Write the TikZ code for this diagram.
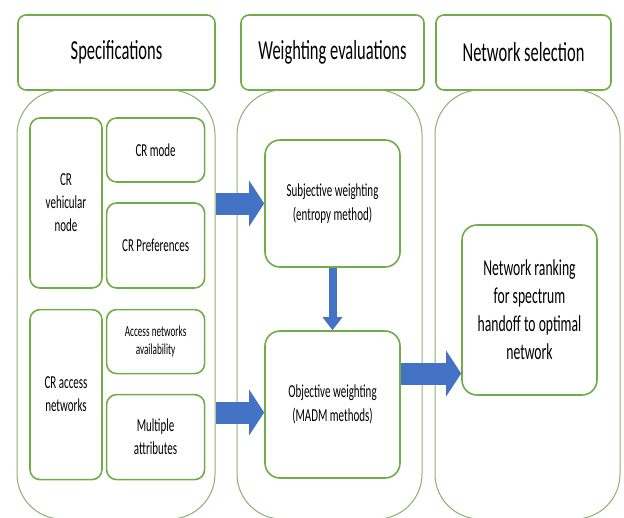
\documentclass[tikz,border=0pt]{standalone}
\usepackage{fontspec}
\setmainfont{Carlito}[FakeStretch=0.6]
\usetikzlibrary{positioning,calc,arrows.meta}
\definecolor{boxgreen}{HTML}{70AD47}
\definecolor{panelgreen}{HTML}{8DAF6E}
\definecolor{flowblue}{HTML}{4472C4}

\begin{document}
\begin{tikzpicture}[x=1pt, y=-1pt, node distance={3pt},
  head/.style = {draw=boxgreen, line width=1.6pt, rounded corners=8pt, inner sep=0pt, minimum height=75pt, font=\fontsize{27.5}{30}\selectfont},
  panel/.style = {draw=panelgreen, line width=1pt, rounded corners=45pt, minimum width=185pt, minimum height=429pt, inner sep=0pt},
  box/.style = {draw=boxgreen, line width=1.6pt, rounded corners=10pt, inner sep=0pt, align=center, font=\fontsize{18.3}{23}\selectfont},
  big/.style = {draw=boxgreen, line width=1.6pt, rounded corners=15pt, inner sep=0pt, minimum width=135pt, align=center, font=\fontsize{18.3}{23.5}\selectfont},
  flow/.style = {flowblue, line width=22pt, -{Triangle[length=15pt, width=45pt]}}]
\useasboundingbox (0,0) rectangle (624,517);
% headers
\node[head, minimum width=197pt] (spec) at (116.5,52.5) {Specifications};
\node[head, minimum width=183pt] (weigh) at (332.5,52.5) {Weighting evaluations};
\node[head, minimum width=175pt] (sel) at (523.5,52.5) {Network selection};
% panels
\node[panel, minimum width=198pt] (specP) at (116,304.5) {};
\node[panel] (weighP) at (329.5,304.5) {};
\node[panel] (selP) at (527.5,304.5) {};
% specifications
\node[box, minimum width=72pt, minimum height=170pt] (veh) at (66,203) {CR\\vehicular\\node};
\node[box, minimum width=98pt, minimum height=64pt, right=of veh.north east, anchor=north west] (mode) {CR mode};
\node[box, minimum width=98pt, minimum height=85pt, right=of veh.south east, anchor=south west] (pref) {CR Preferences};
\node[box, minimum width=72pt, minimum height=170pt, below=20pt of veh] (acc) {CR access\\networks};
\node[box, minimum width=98pt, minimum height=64pt, right=of acc.north east, anchor=north west, font=\fontsize{15.3}{18}\selectfont] (avail) {Access networks\\availability};
\node[box, minimum width=98pt, minimum height=85pt, right=of acc.south east, anchor=south west] (multi) {Multiple\\attributes};
% weighting
\node[big, minimum height=127pt] (subj) at (332.5,203.5) {Subjective weighting\\(entropy method)};
\node[big, minimum height=147pt] (obj) at (332.5,404.5) {Objective weighting\\(MADM methods)};
% selection
\node[big, minimum height=170pt, font=\fontsize{22.8}{28}\selectfont] (rank) at (529.5,310) {Network ranking\\for spectrum\\handoff to optimal\\network};
% arrows
\coordinate (a2) at ($(obj.west)+(0,8)$);
\coordinate (a3) at ($(obj.east)+(0,-31)$);
\draw[flow] (specP.east |- subj.west) -- (subj.west);
\draw[flow] (specP.east |- a2) -- (a2);
\draw[flow] (a3) -- (a3 -| rank.west);
\draw[flow, line width=8pt, -{Triangle[length=13pt, width=19pt]}] (subj.south) -- (obj.north);
\end{tikzpicture}
\end{document}
